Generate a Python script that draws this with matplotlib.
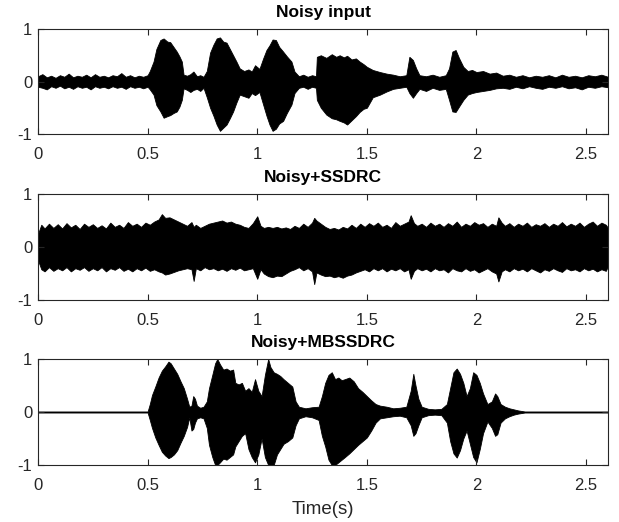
import matplotlib
matplotlib.use("Agg")
import matplotlib.pyplot as plt

plt.rcParams['font.family'] = ['Liberation Sans', 'DejaVu Sans']

titles = ["Noisy input", "Noisy+SSDRC", "Noisy+MBSSDRC"]
xlabel_text = "Time(s)"
xticks = [0, 0.5, 1, 1.5, 2, 2.5]
xtick_labels = ["0", "0.5", "1", "1.5", "2", "2.5"]
yticks = [-1, 0, 1]
ytick_labels = ["-1", "0", "1"]

# ---- Panel 1: Noisy input (envelope breakpoints) ----
t1 = [0.000, 0.020, 0.040, 0.060, 0.080, 0.100, 0.120, 0.140, 0.160, 0.180, 0.200, 0.220,
      0.240, 0.260, 0.280, 0.300, 0.320, 0.340, 0.360, 0.380, 0.400, 0.420, 0.440, 0.460,
      0.480, 0.500, 0.510, 0.527, 0.540, 0.558, 0.573, 0.590, 0.603, 0.618, 0.633, 0.645,
      0.656, 0.664, 0.680, 0.695, 0.709, 0.725, 0.740, 0.755, 0.770, 0.785, 0.800, 0.815,
      0.830, 0.845, 0.860, 0.875, 0.890, 0.905, 0.920, 0.940, 0.960, 0.975, 0.990, 1.010,
      1.027, 1.042, 1.056, 1.070, 1.085, 1.100, 1.118, 1.135, 1.156, 1.170, 1.190, 1.210,
      1.230, 1.250, 1.268, 1.272, 1.290, 1.315, 1.340, 1.360, 1.376, 1.395, 1.410, 1.430,
      1.450, 1.467, 1.485, 1.500, 1.527, 1.560, 1.590, 1.620, 1.650, 1.680, 1.694, 1.710,
      1.725, 1.740, 1.770, 1.800, 1.830, 1.860, 1.875, 1.890, 1.905, 1.920, 1.940, 1.960,
      1.980, 2.000, 2.030, 2.060, 2.090, 2.120, 2.150, 2.180, 2.210, 2.240, 2.270, 2.300,
      2.330, 2.360, 2.390, 2.420, 2.450, 2.480, 2.510, 2.540, 2.570, 2.600]
up1 = [0.10, 0.14, 0.08, 0.11, 0.07, 0.12, 0.09, 0.15, 0.08, 0.11, 0.09, 0.13,
       0.08, 0.14, 0.09, 0.11, 0.08, 0.12, 0.10, 0.16, 0.09, 0.12, 0.08, 0.11,
       0.09, 0.12, 0.20, 0.38, 0.62, 0.79, 0.82, 0.76, 0.75, 0.66, 0.57, 0.48,
       0.38, 0.13, 0.11, 0.14, 0.19, 0.10, 0.12, 0.09, 0.20, 0.55, 0.70, 0.82,
       0.84, 0.76, 0.74, 0.62, 0.50, 0.38, 0.25, 0.20, 0.23, 0.19, 0.31, 0.24,
       0.44, 0.60, 0.69, 0.80, 0.79, 0.66, 0.57, 0.48, 0.38, 0.19, 0.10, 0.13,
       0.09, 0.12, 0.10, 0.47, 0.50, 0.45, 0.52, 0.47, 0.50, 0.46, 0.49, 0.42,
       0.44, 0.38, 0.33, 0.28, 0.22, 0.18, 0.15, 0.13, 0.10, 0.12, 0.47, 0.41,
       0.25, 0.12, 0.10, 0.13, 0.09, 0.12, 0.25, 0.57, 0.60, 0.45, 0.28, 0.20,
       0.22, 0.18, 0.20, 0.15, 0.17, 0.11, 0.13, 0.09, 0.12, 0.08, 0.11, 0.09,
       0.12, 0.08, 0.13, 0.09, 0.11, 0.08, 0.12, 0.10, 0.13, 0.09]
lo1 = [-0.10, -0.12, -0.15, -0.09, -0.12, -0.08, -0.13, -0.10, -0.14, -0.09, -0.12, -0.10,
       -0.15, -0.09, -0.12, -0.10, -0.13, -0.09, -0.12, -0.10, -0.14, -0.09, -0.12, -0.10,
       -0.13, -0.10, -0.15, -0.25, -0.45, -0.57, -0.69, -0.66, -0.64, -0.60, -0.57, -0.48,
       -0.35, -0.13, -0.16, -0.20, -0.16, -0.14, -0.18, -0.12, -0.30, -0.50, -0.65, -0.82,
       -0.94, -0.88, -0.82, -0.70, -0.57, -0.40, -0.25, -0.28, -0.31, -0.22, -0.26, -0.20,
       -0.44, -0.65, -0.82, -0.94, -0.90, -0.80, -0.75, -0.60, -0.44, -0.22, -0.12, -0.10,
       -0.14, -0.10, -0.12, -0.35, -0.50, -0.63, -0.70, -0.72, -0.75, -0.78, -0.82, -0.74,
       -0.66, -0.58, -0.52, -0.50, -0.30, -0.25, -0.19, -0.14, -0.12, -0.10, -0.22, -0.31,
       -0.22, -0.14, -0.18, -0.12, -0.16, -0.14, -0.35, -0.57, -0.58, -0.48, -0.35, -0.25,
       -0.22, -0.20, -0.18, -0.16, -0.13, -0.12, -0.14, -0.10, -0.13, -0.09, -0.12, -0.14,
       -0.10, -0.12, -0.09, -0.13, -0.11, -0.15, -0.10, -0.12, -0.09, -0.11]

# ---- Panel 2: Noisy+SSDRC ----
t2 = [0.000, 0.015, 0.030, 0.050, 0.070, 0.090, 0.110, 0.130, 0.150, 0.170, 0.190, 0.210,
      0.230, 0.250, 0.270, 0.290, 0.310, 0.330, 0.350, 0.370, 0.390, 0.410, 0.430, 0.450,
      0.470, 0.490, 0.510, 0.530, 0.550, 0.565, 0.580, 0.600, 0.620, 0.640, 0.660, 0.680,
      0.700, 0.710, 0.720, 0.740, 0.760, 0.780, 0.800, 0.820, 0.840, 0.860, 0.880, 0.900,
      0.920, 0.940, 0.960, 0.980, 1.000, 1.015, 1.030, 1.050, 1.070, 1.090, 1.110, 1.130,
      1.150, 1.170, 1.190, 1.210, 1.230, 1.250, 1.260, 1.270, 1.290, 1.310, 1.330, 1.350,
      1.370, 1.390, 1.410, 1.430, 1.450, 1.470, 1.490, 1.510, 1.530, 1.550, 1.570, 1.590,
      1.610, 1.630, 1.650, 1.670, 1.690, 1.700, 1.715, 1.730, 1.750, 1.770, 1.790, 1.810,
      1.830, 1.850, 1.870, 1.890, 1.910, 1.930, 1.950, 1.970, 1.990, 2.010, 2.030, 2.050,
      2.070, 2.090, 2.100, 2.115, 2.130, 2.150, 2.170, 2.190, 2.210, 2.230, 2.250, 2.270,
      2.290, 2.310, 2.330, 2.350, 2.370, 2.390, 2.410, 2.430, 2.450, 2.470, 2.490, 2.510,
      2.530, 2.550, 2.570, 2.590, 2.600]
up2 = [0.25, 0.42, 0.35, 0.44, 0.36, 0.43, 0.35, 0.45, 0.37, 0.42, 0.34, 0.44,
       0.38, 0.43, 0.36, 0.41, 0.35, 0.46, 0.38, 0.42, 0.36, 0.47, 0.40, 0.44,
       0.38, 0.46, 0.42, 0.48, 0.52, 0.62, 0.55, 0.56, 0.52, 0.48, 0.44, 0.40,
       0.47, 0.38, 0.42, 0.36, 0.40, 0.44, 0.46, 0.48, 0.50, 0.46, 0.48, 0.44,
       0.42, 0.38, 0.36, 0.45, 0.58, 0.40, 0.36, 0.38, 0.36, 0.38, 0.35, 0.37,
       0.34, 0.40, 0.36, 0.44, 0.38, 0.46, 0.55, 0.50, 0.44, 0.38, 0.34, 0.36,
       0.33, 0.38, 0.35, 0.42, 0.36, 0.44, 0.38, 0.45, 0.40, 0.46, 0.38, 0.42,
       0.36, 0.47, 0.40, 0.44, 0.48, 0.60, 0.45, 0.40, 0.44, 0.38, 0.46, 0.40,
       0.44, 0.38, 0.45, 0.40, 0.48, 0.38, 0.44, 0.40, 0.47, 0.42, 0.45, 0.38,
       0.44, 0.40, 0.56, 0.46, 0.40, 0.45, 0.38, 0.44, 0.40, 0.46, 0.38, 0.43,
       0.40, 0.45, 0.38, 0.44, 0.40, 0.47, 0.39, 0.44, 0.40, 0.46, 0.38, 0.44,
       0.48, 0.40, 0.46, 0.42, 0.36]
lo2 = [-0.25, -0.42, -0.46, -0.38, -0.45, -0.40, -0.44, -0.38, -0.46, -0.40, -0.43, -0.38,
       -0.45, -0.40, -0.44, -0.38, -0.46, -0.40, -0.43, -0.38, -0.45, -0.41, -0.46, -0.40,
       -0.44, -0.39, -0.45, -0.42, -0.46, -0.48, -0.52, -0.50, -0.47, -0.44, -0.42, -0.40,
       -0.42, -0.64, -0.40, -0.44, -0.38, -0.42, -0.40, -0.44, -0.41, -0.45, -0.40, -0.43,
       -0.39, -0.44, -0.42, -0.40, -0.60, -0.42, -0.50, -0.55, -0.57, -0.54, -0.55, -0.50,
       -0.45, -0.42, -0.38, -0.44, -0.40, -0.46, -0.70, -0.48, -0.52, -0.55, -0.54, -0.57,
       -0.55, -0.58, -0.54, -0.52, -0.48, -0.45, -0.42, -0.46, -0.40, -0.44, -0.40, -0.46,
       -0.41, -0.44, -0.40, -0.46, -0.42, -0.60, -0.45, -0.40, -0.44, -0.41, -0.46, -0.40,
       -0.44, -0.42, -0.48, -0.40, -0.44, -0.46, -0.40, -0.45, -0.42, -0.48, -0.44, -0.40,
       -0.46, -0.50, -0.65, -0.46, -0.42, -0.46, -0.40, -0.44, -0.41, -0.46, -0.40, -0.44,
       -0.48, -0.42, -0.45, -0.40, -0.44, -0.47, -0.40, -0.44, -0.42, -0.46, -0.40, -0.44,
       -0.41, -0.46, -0.42, -0.45, -0.36]

# ---- Panel 3: Noisy+MBSSDRC ----
t3 = [0.00, 0.10, 0.20, 0.30, 0.40, 0.50, 0.510, 0.520, 0.535, 0.550, 0.565, 0.580,
      0.595, 0.605, 0.620, 0.635, 0.650, 0.665, 0.680, 0.690, 0.700, 0.708, 0.716, 0.725,
      0.740, 0.755, 0.770, 0.780, 0.795, 0.808, 0.818, 0.830, 0.845, 0.860, 0.875, 0.890,
      0.900, 0.915, 0.930, 0.945, 0.960, 0.975, 0.990, 1.005, 1.020, 1.035, 1.050, 1.060,
      1.075, 1.090, 1.105, 1.120, 1.140, 1.160, 1.175, 1.190, 1.220, 1.250, 1.280, 1.295,
      1.310, 1.325, 1.340, 1.355, 1.370, 1.385, 1.400, 1.420, 1.440, 1.460, 1.480, 1.500,
      1.520, 1.540, 1.560, 1.590, 1.620, 1.650, 1.680, 1.700, 1.712, 1.722, 1.735, 1.750,
      1.780, 1.810, 1.840, 1.865, 1.880, 1.895, 1.910, 1.925, 1.940, 1.955, 1.970, 1.985,
      2.000, 2.015, 2.030, 2.050, 2.070, 2.085, 2.095, 2.110, 2.130, 2.150, 2.170, 2.190,
      2.220, 2.300, 2.400, 2.500, 2.600]
up3 = [0.01, 0.01, 0.01, 0.01, 0.01, 0.01, 0.15, 0.32, 0.48, 0.65, 0.78, 0.86,
       0.95, 0.92, 0.82, 0.72, 0.58, 0.45, 0.25, 0.10, 0.12, 0.30, 0.25, 0.12,
       0.08, 0.10, 0.20, 0.45, 0.70, 0.92, 1.00, 0.90, 0.80, 0.82, 0.78, 0.80,
       0.55, 0.52, 0.55, 0.40, 0.45, 0.38, 0.62, 0.40, 0.30, 0.70, 1.00, 0.85,
       0.75, 0.72, 0.68, 0.62, 0.55, 0.48, 0.20, 0.10, 0.07, 0.09, 0.10, 0.30,
       0.55, 0.70, 0.75, 0.62, 0.65, 0.60, 0.62, 0.65, 0.58, 0.45, 0.38, 0.30,
       0.22, 0.15, 0.12, 0.10, 0.07, 0.08, 0.10, 0.40, 0.72, 0.50, 0.25, 0.10,
       0.06, 0.05, 0.06, 0.15, 0.45, 0.75, 0.82, 0.72, 0.55, 0.30, 0.45, 0.75,
       0.70, 0.55, 0.35, 0.15, 0.20, 0.35, 0.30, 0.15, 0.10, 0.07, 0.05, 0.03,
       0.01, 0.01, 0.01, 0.01, 0.01]
lo3 = [-0.01, -0.01, -0.01, -0.01, -0.01, -0.01, -0.15, -0.30, -0.48, -0.62, -0.75, -0.82,
       -0.87, -0.85, -0.80, -0.72, -0.58, -0.45, -0.28, -0.10, -0.35, -0.32, -0.20, -0.12,
       -0.10, -0.12, -0.30, -0.62, -0.85, -1.00, -1.00, -0.95, -0.88, -0.90, -0.85, -0.80,
       -0.65, -0.55, -0.45, -0.40, -0.70, -0.85, -0.95, -0.80, -0.50, -0.85, -1.00, -1.00,
       -1.00, -0.80, -0.70, -0.60, -0.55, -0.48, -0.25, -0.12, -0.08, -0.10, -0.15, -0.45,
       -0.65, -0.90, -1.00, -1.00, -0.95, -0.90, -0.85, -0.78, -0.70, -0.62, -0.55, -0.48,
       -0.35, -0.20, -0.12, -0.10, -0.08, -0.07, -0.10, -0.25, -0.45, -0.40, -0.25, -0.10,
       -0.06, -0.05, -0.06, -0.20, -0.55, -0.78, -0.86, -0.72, -0.50, -0.35, -0.60, -0.85,
       -0.95, -0.70, -0.40, -0.18, -0.30, -0.45, -0.42, -0.20, -0.12, -0.08, -0.05, -0.03,
       -0.01, -0.01, -0.01, -0.01, -0.01]

series = [(t1, up1, lo1), (t2, up2, lo2), (t3, up3, lo3)]

fig = plt.figure(figsize=(6.19, 5.22), dpi=100)
W, H = 619.0, 522.0
left_px, right_px = 38, 608
tops = [29, 194, 359]
bots = [134, 300, 465]

axcol = '#262626'
for i, (tt, uu, ll) in enumerate(series):
    ax = fig.add_axes([left_px / W, 1 - bots[i] / H, (right_px - left_px) / W, (bots[i] - tops[i]) / H])
    ax.fill_between(tt, ll, uu, color='black', linewidth=0.6, edgecolor='black')
    ax.set_xlim(0, 2.6)
    ax.set_ylim(-1, 1)
    ax.set_xticks(xticks)
    ax.set_xticklabels(xtick_labels)
    ax.set_yticks(yticks)
    ax.set_yticklabels(ytick_labels)
    ax.tick_params(direction='in', length=4, width=0.8, color=axcol, labelcolor='#262626',
                   labelsize=12, top=True, right=True)
    ax.tick_params(axis='x', pad=9.5)
    ax.tick_params(axis='y', pad=4)
    for s in ax.spines.values():
        s.set_color(axcol)
        s.set_linewidth(0.8)
    ax.set_title(titles[i], fontsize=12.5, fontweight='bold', pad=8.5)
    if i == 2:
        ax.set_xlabel(xlabel_text, fontsize=13.5, labelpad=5.5, color='#262626')

fig.savefig("out.png", dpi=100)
